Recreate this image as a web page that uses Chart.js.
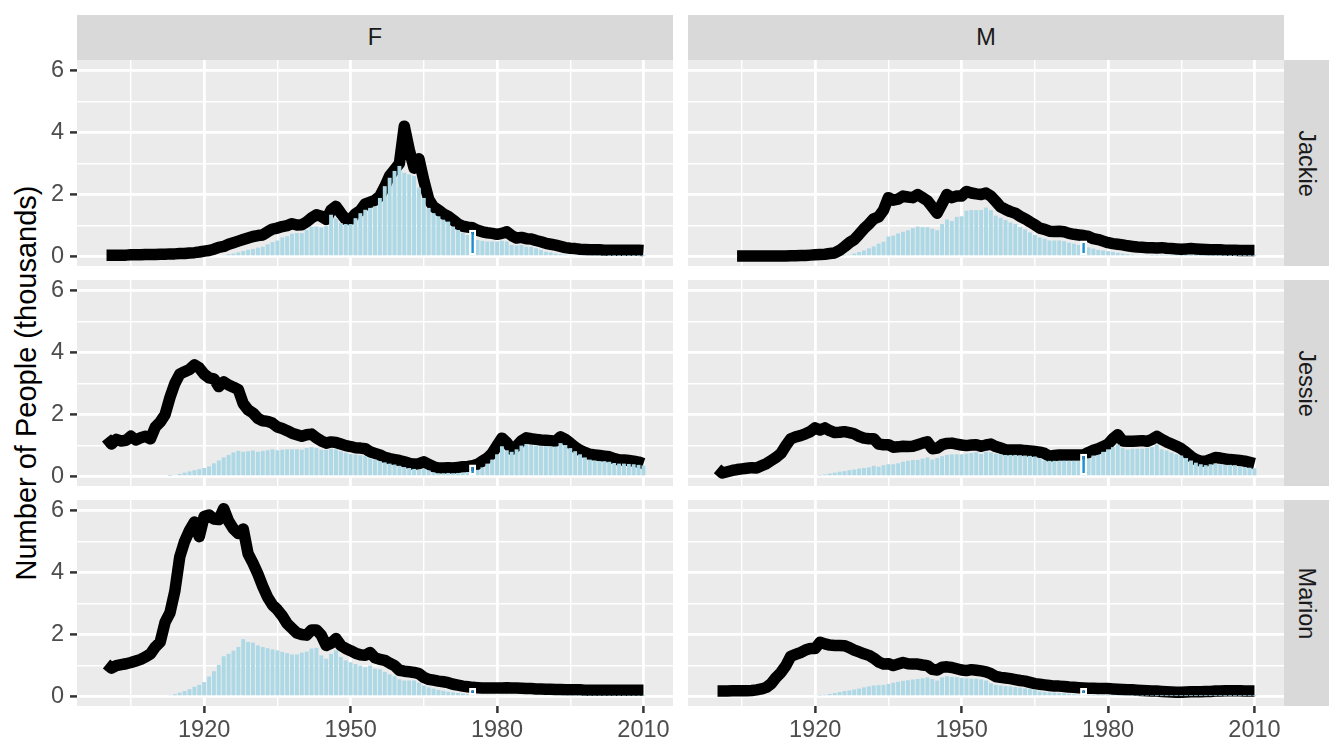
<!DOCTYPE html>
<html>
<head>
<meta charset="utf-8">
<script src="https://cdn.jsdelivr.net/npm/chart.js@4"></script>
<style>
  body { margin: 0; background: #fff; width: 1344px; height: 756px; position: relative; overflow: hidden;
         font-family: "Liberation Sans", Arial, sans-serif; }
  .box { position: absolute; }
  .strip { position: absolute; background: #d9d9d9; color: #1a1a1a; font-size: 23.5px;
           display: flex; align-items: center; justify-content: center; }
  .strip.side span { transform: rotate(90deg); white-space: nowrap; }
  #ytitle { position: absolute; left: 26px; top: 383px; transform: translate(-50%, -50%) rotate(-90deg);
            font-size: 29px; white-space: nowrap; color: #000; }
</style>
</head>
<body>
<div class="strip" style="left:77px;top:15px;width:596px;height:45px;">F</div>
<div class="strip" style="left:688px;top:15px;width:596px;height:45px;">M</div>
<div class="strip side" style="left:1284px;top:60px;width:45px;height:206px;"><span>Jackie</span></div>
<div class="strip side" style="left:1284px;top:280px;width:45px;height:206px;"><span>Jessie</span></div>
<div class="strip side" style="left:1284px;top:500px;width:45px;height:206px;"><span>Marion</span></div>
<div id="ytitle">Number of People (thousands)</div>

<div class="box" style="left:0;top:60px;width:673px;height:206px;"><canvas id="c00"></canvas></div>
<div class="box" style="left:688px;top:60px;width:596px;height:206px;"><canvas id="c01"></canvas></div>
<div class="box" style="left:0;top:280px;width:673px;height:206px;"><canvas id="c10"></canvas></div>
<div class="box" style="left:688px;top:280px;width:596px;height:206px;"><canvas id="c11"></canvas></div>
<div class="box" style="left:0;top:500px;width:673px;height:256px;"><canvas id="c20"></canvas></div>
<div class="box" style="left:688px;top:500px;width:596px;height:256px;"><canvas id="c21"></canvas></div>

<script>
// births per year (thousands), 1900-2010
const birthsJackieF = [
  0.05,0.05,0.05,0.05,0.05,0.06,0.06,0.06,0.07,0.07,
  0.07,0.08,0.08,0.09,0.09,0.10,0.10,0.12,0.13,0.15,
  0.18,0.20,0.24,0.30,0.33,0.40,0.45,0.50,0.55,0.60,
  0.65,0.68,0.70,0.80,0.89,0.92,0.97,1.00,1.06,1.02,
  1.03,1.12,1.25,1.35,1.30,1.20,1.50,1.62,1.40,1.20,
  1.20,1.38,1.48,1.70,1.75,1.82,1.95,2.25,2.60,2.80,
  3.00,4.20,3.45,2.85,3.15,2.45,1.85,1.60,1.50,1.38,
  1.30,1.18,1.05,0.98,0.95,0.93,0.85,0.80,0.77,0.75,
  0.72,0.75,0.80,0.68,0.60,0.62,0.58,0.57,0.52,0.48,
  0.43,0.40,0.37,0.33,0.29,0.27,0.26,0.24,0.23,0.22,
  0.22,0.22,0.21,0.21,0.21,0.21,0.21,0.21,0.21,0.21,0.20
];
const birthsJackieM = [
  null,null,null,null,0.02,0.02,0.02,0.02,0.02,0.02,
  0.02,0.02,0.02,0.02,0.02,0.03,0.03,0.04,0.04,0.05,
  0.06,0.07,0.08,0.10,0.12,0.20,0.32,0.45,0.55,0.72,
  0.90,1.05,1.22,1.28,1.50,1.90,1.82,1.85,1.95,1.92,
  1.90,2.00,1.90,1.80,1.60,1.40,1.70,2.00,1.90,1.95,
  1.95,2.10,2.05,2.02,2.00,2.05,1.95,1.78,1.60,1.52,
  1.45,1.40,1.30,1.22,1.12,1.03,0.92,0.88,0.82,0.81,
  0.82,0.80,0.75,0.72,0.70,0.68,0.65,0.58,0.55,0.50,
  0.45,0.42,0.40,0.38,0.35,0.33,0.31,0.30,0.29,0.29,
  0.28,0.29,0.27,0.26,0.25,0.24,0.25,0.26,0.25,0.24,
  0.23,0.22,0.22,0.22,0.21,0.21,0.21,0.20,0.20,0.20,0.20
];
const birthsJessieF = [
  1.25,1.05,1.20,1.15,1.17,1.30,1.18,1.25,1.30,1.22,
  1.60,1.76,2.00,2.55,3.00,3.30,3.38,3.45,3.60,3.50,
  3.30,3.18,3.15,2.90,3.05,2.95,2.88,2.80,2.35,2.15,
  2.05,1.88,1.80,1.78,1.72,1.60,1.55,1.48,1.40,1.35,
  1.30,1.35,1.37,1.25,1.15,1.08,1.12,1.10,1.05,1.00,
  0.97,0.93,0.92,0.90,0.80,0.75,0.70,0.62,0.58,0.55,
  0.52,0.48,0.43,0.40,0.42,0.48,0.40,0.32,0.28,0.28,
  0.29,0.28,0.30,0.32,0.33,0.35,0.40,0.50,0.60,0.75,
  1.00,1.24,1.10,0.88,0.98,1.15,1.25,1.22,1.20,1.18,
  1.17,1.16,1.14,1.28,1.20,1.08,0.95,0.85,0.78,0.72,
  0.70,0.68,0.66,0.64,0.58,0.54,0.54,0.52,0.50,0.47,0.42
];
const birthsJessieM = [
  0.25,0.12,0.16,0.20,0.23,0.25,0.27,0.29,0.28,0.35,
  0.42,0.52,0.62,0.75,1.00,1.22,1.28,1.32,1.38,1.45,
  1.57,1.50,1.57,1.48,1.42,1.43,1.45,1.42,1.38,1.30,
  1.24,1.22,1.22,1.05,1.03,1.03,0.95,0.96,0.98,0.97,
  0.98,1.03,1.08,1.12,0.90,0.92,1.03,1.07,1.08,1.05,
  1.02,1.00,1.02,1.03,0.98,1.02,1.05,0.97,0.92,0.87,
  0.86,0.86,0.86,0.84,0.83,0.81,0.79,0.75,0.66,0.68,
  0.70,0.70,0.70,0.70,0.70,0.70,0.78,0.85,0.90,0.97,
  1.05,1.22,1.35,1.15,1.14,1.14,1.15,1.16,1.14,1.20,
  1.30,1.20,1.12,1.05,0.98,0.90,0.78,0.65,0.55,0.50,
  0.50,0.55,0.62,0.60,0.57,0.55,0.54,0.52,0.50,0.46,0.42
];
const birthsMarionF = [
  1.05,0.92,1.00,1.03,1.06,1.10,1.15,1.20,1.28,1.38,
  1.60,1.76,2.40,2.70,3.40,4.50,5.00,5.35,5.62,5.15,
  5.80,5.85,5.72,5.70,6.05,5.65,5.40,5.25,5.40,4.60,
  4.30,3.95,3.55,3.20,2.95,2.80,2.60,2.35,2.20,2.05,
  2.00,1.98,2.15,2.15,1.98,1.65,1.72,1.87,1.65,1.55,
  1.48,1.40,1.35,1.33,1.42,1.25,1.20,1.17,1.08,1.00,
  0.85,0.82,0.80,0.78,0.74,0.62,0.56,0.53,0.50,0.48,
  0.45,0.40,0.37,0.34,0.32,0.30,0.29,0.28,0.28,0.28,
  0.28,0.28,0.29,0.28,0.28,0.27,0.26,0.26,0.25,0.25,
  0.24,0.24,0.23,0.23,0.22,0.22,0.22,0.22,0.21,0.21,
  0.21,0.21,0.21,0.21,0.21,0.21,0.21,0.21,0.21,0.21,0.21
];
const birthsMarionM = [
  0.18,0.18,0.18,0.19,0.19,0.19,0.19,0.20,0.22,0.25,
  0.30,0.42,0.62,0.78,1.00,1.30,1.36,1.42,1.50,1.55,
  1.55,1.75,1.70,1.66,1.65,1.65,1.64,1.58,1.50,1.44,
  1.38,1.33,1.24,1.12,1.05,1.06,1.00,1.05,1.10,1.06,
  1.05,1.05,1.02,1.00,0.88,0.86,0.95,0.96,0.94,0.90,
  0.86,0.84,0.87,0.85,0.83,0.80,0.74,0.65,0.62,0.60,
  0.58,0.55,0.52,0.50,0.46,0.42,0.40,0.38,0.36,0.34,
  0.34,0.33,0.31,0.30,0.29,0.28,0.27,0.27,0.26,0.26,
  0.26,0.25,0.24,0.23,0.22,0.22,0.21,0.20,0.19,0.18,
  0.18,0.17,0.16,0.15,0.14,0.14,0.15,0.16,0.16,0.16,
  0.17,0.17,0.18,0.18,0.19,0.19,0.19,0.19,0.18,0.18,0.18
];

// estimated alive today (thousands), 1900-2010
const aliveJackieF = [
  0,0,0,0,0,0,0,0,0,0,
  0,0,0,0,0,0,0,0,0,0,
  0,0,0,0,0.04,0.08,0.10,0.14,0.18,0.22,
  0.25,0.29,0.32,0.40,0.47,0.52,0.62,0.66,0.74,0.76,
  0.76,0.86,0.96,0.97,0.94,0.98,1.35,1.24,1.08,1.05,
  1.05,1.24,1.40,1.51,1.57,1.62,1.89,2.27,2.54,2.76,
  2.92,2.70,2.65,2.60,2.22,1.89,1.57,1.40,1.30,1.19,
  1.13,0.97,0.86,0.76,0.70,0.62,0.54,0.51,0.49,0.49,
  0.49,0.51,0.49,0.38,0.36,0.38,0.32,0.32,0.27,0.22,
  0.16,0.14,0.10,0.08,0.06,0.05,0.04,0.04,0.03,0.03,
  0.03,0.03,0.03,0.02,0.02,0.02,0.02,0.02,0.02,0.02,0.02
];
const aliveJackieM = [
  0,0,0,0,0,0,0,0,0,0,
  0,0,0,0,0,0,0,0,0,0,
  0,0,0,0,0,0,0.03,0.06,0.10,0.15,
  0.20,0.27,0.33,0.42,0.48,0.65,0.68,0.75,0.80,0.85,
  0.92,0.97,0.95,0.95,0.90,0.85,1.05,1.20,1.15,1.28,
  1.30,1.48,1.50,1.50,1.50,1.58,1.50,1.32,1.25,1.18,
  1.10,1.05,0.95,0.88,0.78,0.70,0.62,0.58,0.52,0.52,
  0.52,0.50,0.45,0.42,0.38,0.35,0.30,0.26,0.22,0.20,
  0.18,0.15,0.12,0.10,0.08,0.06,0.05,0.04,0.04,0.03,
  0.03,0.03,0.03,0.03,0.03,0.02,0.02,0.02,0.02,0.02,
  0.02,0.02,0.02,0.02,0.02,0.02,0.02,0.02,0.02,0.02,0.02
];
const aliveJessieF = [
  0,0,0,0,0,0,0,0,0,0,
  0,0,0,0.02,0.05,0.09,0.13,0.17,0.21,0.24,
  0.28,0.33,0.43,0.52,0.62,0.70,0.78,0.83,0.80,0.82,
  0.84,0.80,0.83,0.85,0.88,0.85,0.87,0.88,0.88,0.88,
  0.87,0.92,0.95,0.92,0.87,0.86,0.90,0.88,0.82,0.77,
  0.73,0.71,0.69,0.66,0.59,0.55,0.50,0.46,0.42,0.39,
  0.35,0.31,0.28,0.25,0.22,0.25,0.20,0.14,0.11,0.11,
  0.12,0.11,0.12,0.13,0.15,0.18,0.22,0.30,0.42,0.55,
  0.72,0.98,0.85,0.80,0.88,1.00,1.05,1.02,1.00,0.98,
  0.98,0.97,0.97,1.08,1.02,0.92,0.82,0.72,0.62,0.55,
  0.52,0.50,0.50,0.48,0.44,0.42,0.42,0.41,0.40,0.38,0.36
];
const aliveJessieM = [
  0,0,0,0,0,0,0,0,0,0,
  0,0,0,0,0,0,0,0,0,0,
  0,0.03,0.07,0.10,0.13,0.16,0.18,0.21,0.23,0.26,
  0.28,0.30,0.35,0.32,0.37,0.40,0.40,0.43,0.48,0.51,
  0.54,0.54,0.58,0.62,0.55,0.60,0.66,0.70,0.72,0.72,
  0.72,0.74,0.76,0.79,0.73,0.80,0.78,0.74,0.72,0.70,
  0.70,0.70,0.69,0.68,0.67,0.65,0.60,0.52,0.51,0.51,
  0.51,0.51,0.51,0.51,0.51,0.55,0.59,0.68,0.70,0.80,
  0.88,0.95,1.03,0.92,0.87,0.90,0.90,0.90,0.92,0.95,
  1.03,0.88,0.84,0.78,0.72,0.68,0.60,0.52,0.45,0.40,
  0.37,0.40,0.43,0.40,0.38,0.38,0.37,0.33,0.31,0.29,0.27
];
const aliveMarionF = [
  0,0,0,0,0,0,0,0,0,0,
  0,0,0,0.04,0.08,0.13,0.18,0.24,0.32,0.38,
  0.47,0.65,0.82,1.02,1.30,1.38,1.48,1.60,1.85,1.76,
  1.74,1.65,1.60,1.56,1.52,1.49,1.44,1.40,1.36,1.36,
  1.42,1.45,1.55,1.57,1.33,1.22,1.38,1.49,1.28,1.17,
  1.11,1.05,1.00,0.95,1.00,0.90,0.88,0.80,0.72,0.66,
  0.56,0.52,0.52,0.52,0.45,0.36,0.30,0.26,0.22,0.19,
  0.16,0.14,0.12,0.10,0.08,0.07,0.05,0.05,0.05,0.05,
  0.05,0.05,0.05,0.05,0.05,0.05,0.04,0.04,0.04,0.04,
  0.04,0.04,0.04,0.04,0.03,0.03,0.03,0.03,0.03,0.03,
  0.03,0.03,0.03,0.03,0.03,0.03,0.03,0.03,0.03,0.03,0.03
];
const aliveMarionM = [
  0,0,0,0,0,0,0,0,0,0,
  0,0,0,0,0,0,0,0,0,0,
  0,0.03,0.06,0.09,0.12,0.15,0.18,0.20,0.23,0.26,
  0.30,0.33,0.36,0.37,0.38,0.41,0.45,0.48,0.51,0.53,
  0.55,0.57,0.59,0.62,0.57,0.52,0.62,0.66,0.64,0.63,
  0.61,0.59,0.58,0.58,0.56,0.52,0.43,0.38,0.36,0.34,
  0.33,0.31,0.29,0.27,0.25,0.22,0.17,0.15,0.14,0.13,
  0.12,0.11,0.09,0.08,0.06,0.05,0.03,0.03,0.03,0.03,
  0.03,0.03,0.03,0.03,0.03,0.03,0.03,0.03,0.03,0.03,
  0.02,0.02,0.02,0.02,0.02,0.02,0.02,0.02,0.02,0.02,
  0.02,0.02,0.02,0.02,0.02,0.02,0.02,0.02,0.02,0.02,0.02
];

// highlighted year and its bar height per panel: Jackie F, Jackie M, Jessie F, Jessie M, Marion F, Marion M
const highlightYear = 1975;
const highlightValues = [0.87, 0.52, 0.39, 0.74, 0.28, 0.28];

const years = [];
for (let y = 1900; y <= 2010; y++) years.push(y);

const xTicks = [1905, 1920, 1935, 1950, 1965, 1980, 1995, 2010];
const xLabels = [1920, 1950, 1980, 2010];
const yTicks = [0, 1, 2, 3, 4, 5, 6];
const yLabels = [0, 2, 4, 6];

const FONT = '"Liberation Sans", Arial, sans-serif';

const panelBg = {
  id: 'panelBg',
  beforeDraw(chart) {
    const {ctx, chartArea: a} = chart;
    ctx.save();
    ctx.fillStyle = '#ebebeb';
    ctx.fillRect(a.left, a.top, a.width, a.height);
    ctx.restore();
  }
};

function makePanel(id, births, alive, hl, leftAxis, bottomAxis) {
  const toXY = arr => arr.map((v, i) => ({x: years[i], y: v}));
  return new Chart(document.getElementById(id), {
    type: 'bar',
    data: {
      datasets: [
        {
          type: 'line',
          data: toXY(births),
          borderColor: '#000',
          borderWidth: 11.5,
          pointRadius: 0,
          tension: 0,
          borderJoinStyle: 'round',
          borderCapStyle: 'butt',
          order: 3
        },
        {
          type: 'bar',
          data: toXY(alive),
          backgroundColor: '#add8e6',
          barPercentage: 0.8,
          categoryPercentage: 1,
          grouped: false,
          order: 2
        },
        {
          type: 'bar',
          data: [{x: highlightYear, y: hl}],
          backgroundColor: '#1f8fd2',
          borderColor: '#fff',
          borderWidth: 2.4,
          borderSkipped: false,
          barPercentage: 1.45,
          categoryPercentage: 1,
          grouped: false,
          order: 1
        }
      ]
    },
    options: {
      animation: false,
      responsive: true,
      maintainAspectRatio: false,
      layout: {padding: 0},
      plugins: {legend: {display: false}, tooltip: {enabled: false}},
      scales: {
        x: {
          type: 'linear',
          min: 1893.95,
          max: 2016.05,
          offset: false,
          afterBuildTicks: s => { s.ticks = xTicks.map(v => ({value: v})); },
          afterFit: s => { s.height = bottomAxis ? 50 : 0; s.paddingLeft = 0; s.paddingRight = 0; },
          ticks: {
            display: bottomAxis,
            autoSkip: false,
            maxRotation: 0,
            padding: 3,
            color: '#4d4d4d',
            font: {family: FONT, size: 23.5},
            callback: v => xLabels.includes(v) ? String(v) : ''
          },
          grid: {
            color: '#fff',
            offset: false,
            lineWidth: c => (c.tick && xLabels.includes(c.tick.value)) ? 2.8 : 1.4,
            drawTicks: bottomAxis,
            tickLength: 7,
            tickWidth: 2.5,
            tickColor: c => (c.tick && xLabels.includes(c.tick.value)) ? '#333333' : 'rgba(0,0,0,0)'
          },
          border: {display: false}
        },
        y: {
          min: -0.3,
          max: 6.33,
          afterBuildTicks: s => { s.ticks = yTicks.map(v => ({value: v})); },
          afterFit: s => { s.width = leftAxis ? 77 : 0; s.paddingTop = 0; s.paddingBottom = 0; },
          ticks: {
            display: leftAxis,
            autoSkip: false,
            padding: 6,
            color: '#4d4d4d',
            font: {family: FONT, size: 23.5},
            callback: v => yLabels.includes(v) ? String(v) : ''
          },
          grid: {
            color: '#fff',
            lineWidth: c => (c.tick && yLabels.includes(c.tick.value)) ? 2.8 : 1.4,
            drawTicks: leftAxis,
            tickLength: 7,
            tickWidth: 2.5,
            tickColor: c => (c.tick && yLabels.includes(c.tick.value)) ? '#333333' : 'rgba(0,0,0,0)'
          },
          border: {display: false}
        }
      }
    },
    plugins: [panelBg]
  });
}

makePanel('c00', birthsJackieF, aliveJackieF, highlightValues[0], true, false);
makePanel('c01', birthsJackieM, aliveJackieM, highlightValues[1], false, false);
makePanel('c10', birthsJessieF, aliveJessieF, highlightValues[2], true, false);
makePanel('c11', birthsJessieM, aliveJessieM, highlightValues[3], false, false);
makePanel('c20', birthsMarionF, aliveMarionF, highlightValues[4], true, true);
makePanel('c21', birthsMarionM, aliveMarionM, highlightValues[5], false, true);
</script>
</body>
</html>
